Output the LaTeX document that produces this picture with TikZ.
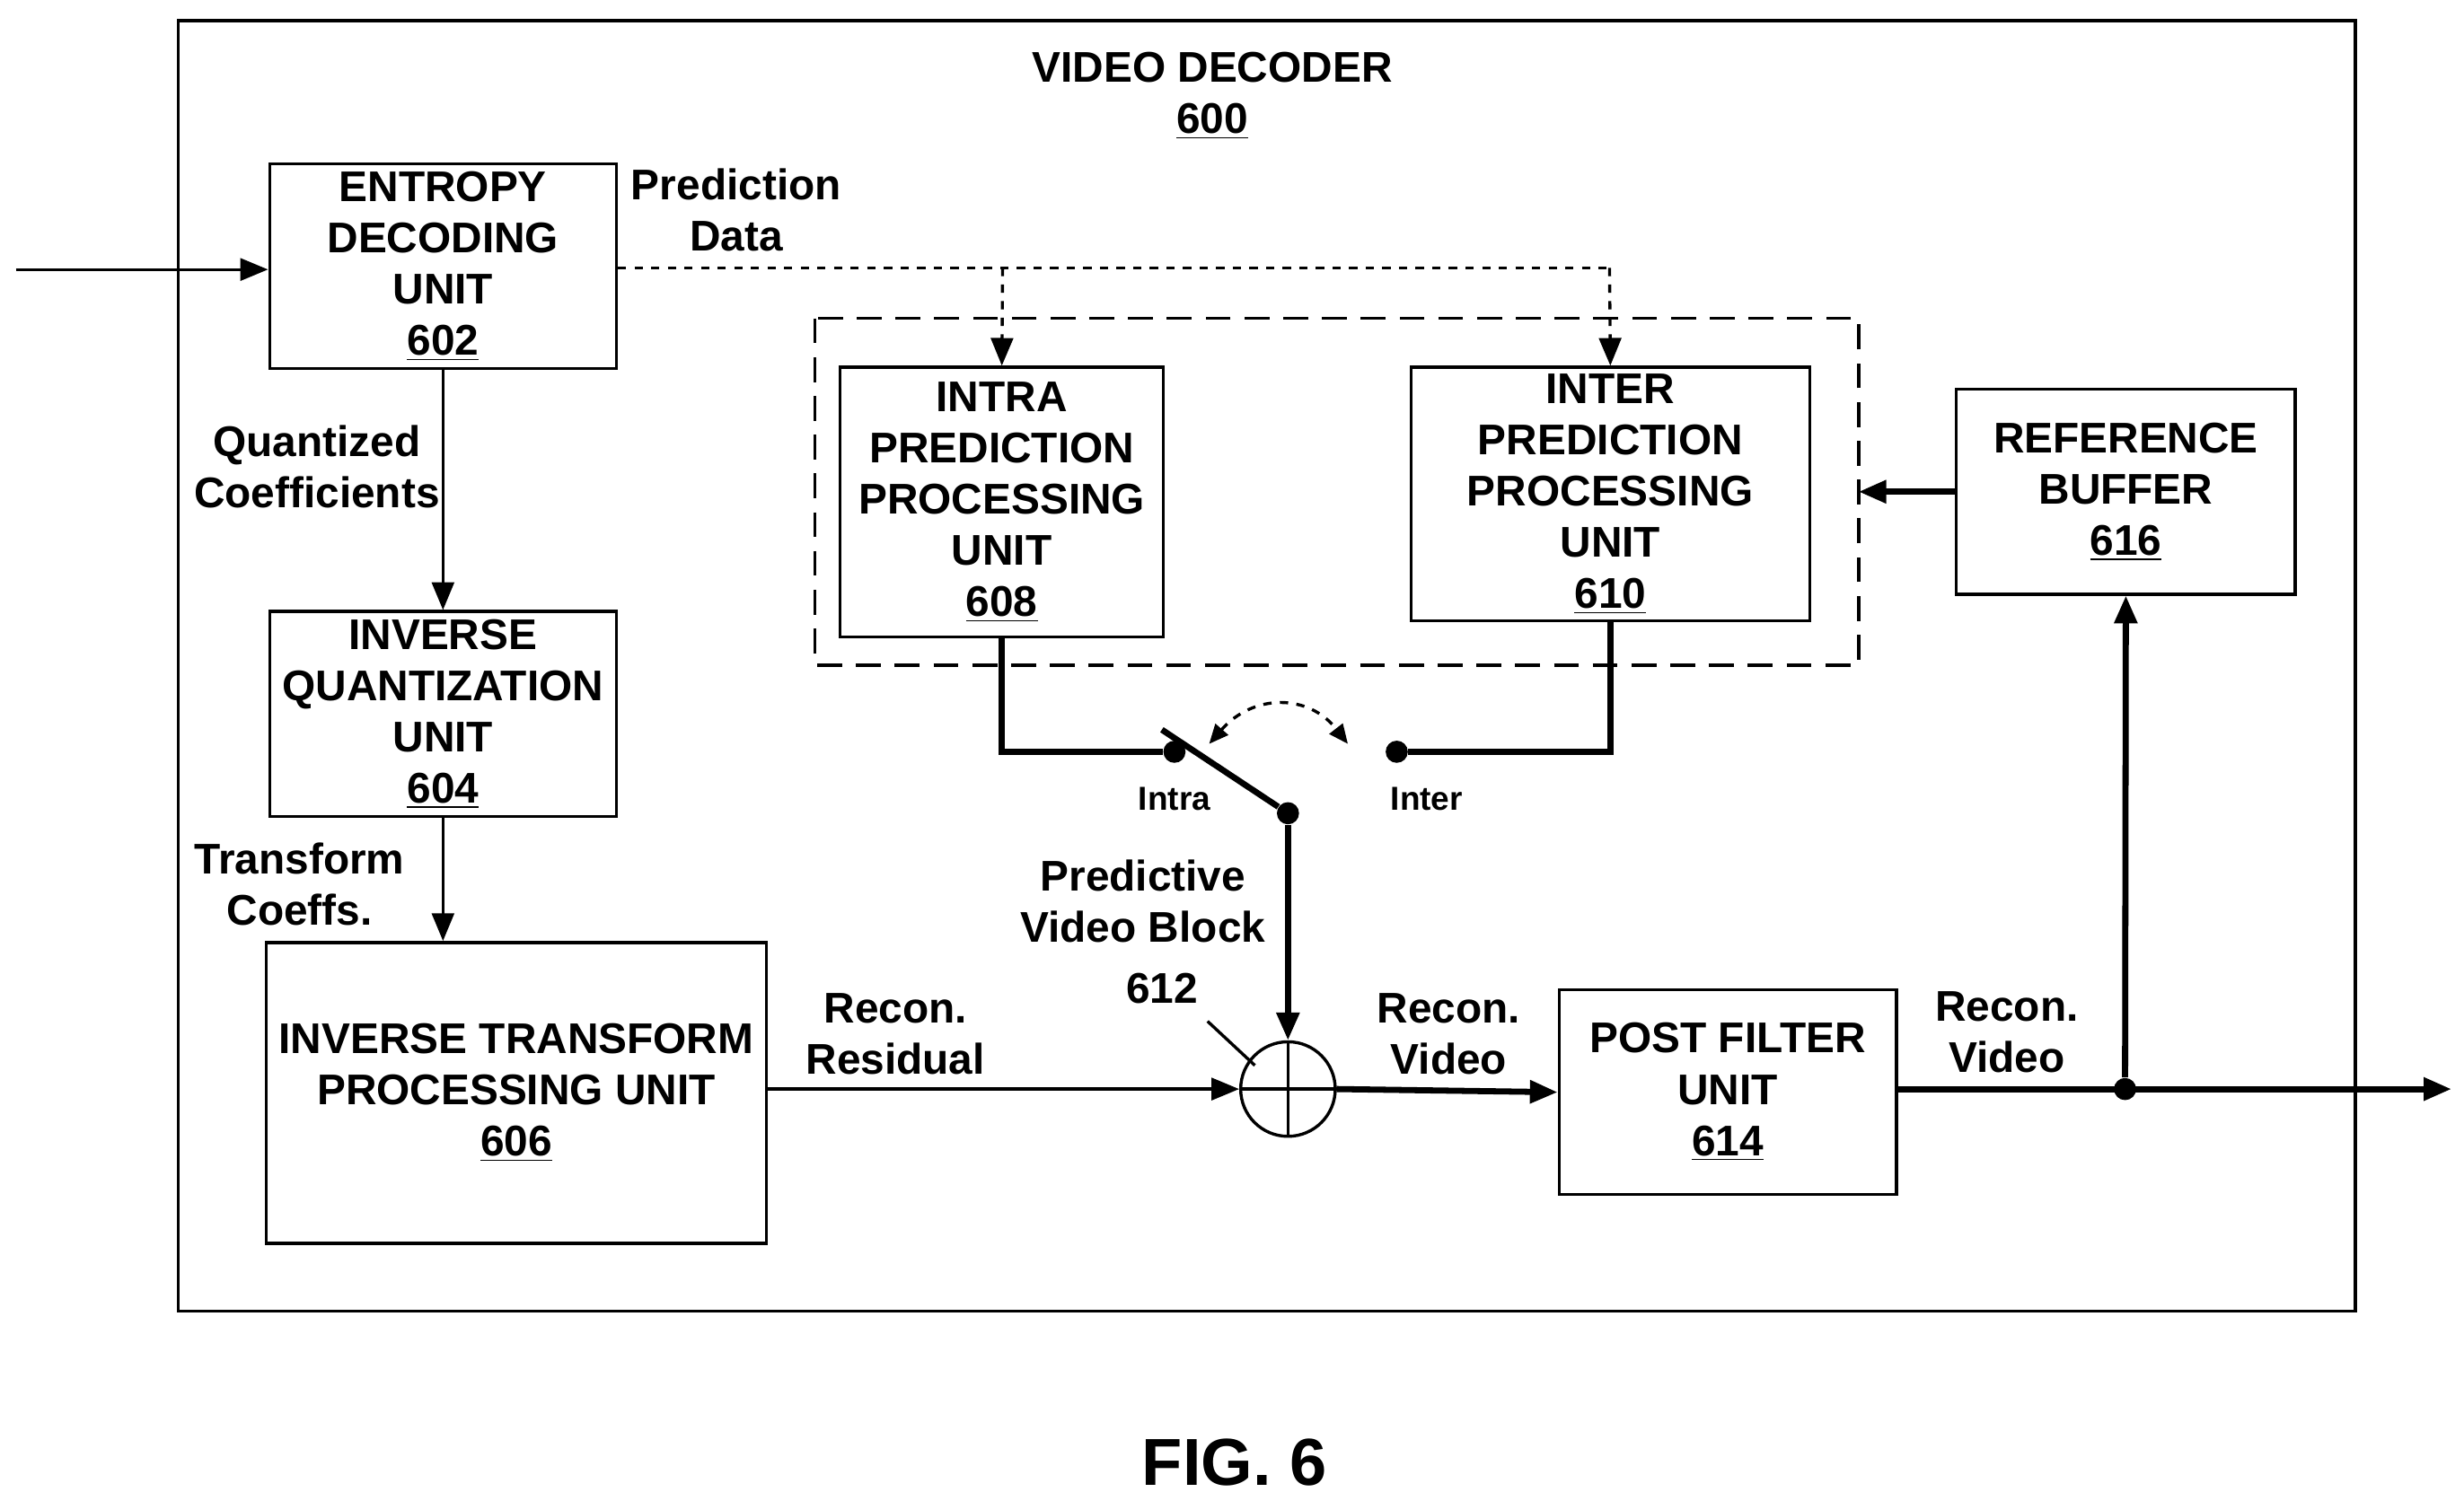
\documentclass[tikz,border=0pt]{standalone}
\usepackage{fontspec}
\setmainfont{Liberation Sans}
\usetikzlibrary{arrows.meta}
\begin{document}
\begin{tikzpicture}[x=0.02cm,y=-0.02cm,
  box/.style={draw,line width=1.1pt,align=center,inner sep=0pt,font=\bfseries\fontsize{15.5}{18.5}\selectfont},
  lab/.style={align=center,font=\bfseries\fontsize{15.5}{18.5}\selectfont},
  thin/.style={line width=1.1pt},
  thick/.style={line width=2.2pt},
  arr/.style={-{Triangle[length=10pt,width=8pt]}},
  dot/.style={circle,fill,inner sep=0pt,minimum size=8pt}]
\useasboundingbox (0,0) rectangle (1563,952);
\draw[thin] (113,13) rectangle (1494,832);
\node[lab] (title) at (769,61) {VIDEO DECODER\\\underline{600}};
% boxes
\node[box,minimum width=220*0.02cm,minimum height=130*0.02cm] (ent) at (281,169) {ENTROPY\\DECODING\\UNIT\\\underline{602}};
\node[box,minimum width=220*0.02cm,minimum height=130*0.02cm] (iq) at (281,453) {INVERSE\\QUANTIZATION\\UNIT\\\underline{604}};
\node[box,minimum width=317*0.02cm,minimum height=191*0.02cm] (it) at (327.5,693.5) {INVERSE TRANSFORM\\PROCESSING UNIT\\\underline{606}};
\node[box,minimum width=205*0.02cm,minimum height=171*0.02cm] (intra) at (635.5,318.5) {INTRA\\PREDICTION\\PROCESSING\\UNIT\\\underline{608}};
\node[box,minimum width=253*0.02cm,minimum height=161*0.02cm] (inter) at (1021.5,313.5) {INTER\\PREDICTION\\PROCESSING\\UNIT\\\underline{610}};
\node[box,minimum width=215*0.02cm,minimum height=130*0.02cm] (ref) at (1348.5,312) {REFERENCE\\BUFFER\\\underline{616}};
\node[box,minimum width=214*0.02cm,minimum height=130*0.02cm] (pf) at (1096,693) {POST FILTER\\UNIT\\\underline{614}};
\draw[thin,dash pattern=on 9pt off 5pt] (517,202) rectangle (1179,422);
\coordinate (dbr) at (1179,312);
\node[draw,circle,thin,minimum size=60*0.02cm,inner sep=0pt] (add) at (817,691) {};
\draw[thin] (add.north)--(add.south) (add.west)--(add.east);
% input
\coordinate (in) at (10,171);
\draw[thin,arr] (in) -- (ent.west|-in);
% prediction data
\node[lab] (pd) at (467,133) {Prediction\\Data};
\coordinate (d1) at (636,170);\coordinate (d2) at (1021,170);
\draw[thin,dashed] (ent.east|-d1) -- (d2);
\draw[thin,dashed,arr] (d1) -- (intra.north);
\draw[thin,dashed,arr] (d2) -- (inter.north);
\draw[thick,arr] (ref.west) -- (dbr);
\node[lab] (qc) at (201,296) {Quantized\\Coefficients};
\draw[thin,arr] (ent.south) -- (iq.north);
\node[lab] (tc) at (190,561) {Transform\\Coeffs.};
\draw[thin,arr] (iq.south) -- (iq.south|-it.north);
\node[lab] (rr) at (568,656) {Recon.\\Residual};
\draw[thin,arr] (it.east|-add) -- (add.west);
% switch
\node[dot] (sa) at (745,477) {};
\node[dot] (sb) at (886,477) {};
\node[dot] (sc) at (817,516) {};
\draw[thick] (intra.south) |- (sa);
\draw[thick] (inter.south) |- (sb);
\draw[thick] (sc) -- (737,463);
\draw[thin,dashed,{Triangle[length=7pt,width=6pt]}-{Triangle[length=7pt,width=6pt]}] (767,472) .. controls (795,440) and (830,440) .. (855,472);
\node[font=\bfseries\fontsize{12}{14}\selectfont] (li) at (745,507) {Intra};
\node[font=\bfseries\fontsize{12}{14}\selectfont] (le) at (905,507) {Inter};
\draw[thick,arr] (sc) -- (add.north);
\node[lab] (pv) at (725,572) {Predictive\\Video Block};
\node[lab] (n612) at (737,627) {612};
\draw[thin] (766,648) -- (796,676);
\node[lab] (rv1) at (919,656) {Recon.\\Video};
\draw[thick,arr] (add.east) -- (pf.west);
\node[dot] (od) at (1348,691) {};
\coordinate (out) at (1555,691);
\draw[thick,arr] (pf.east|-out) -- (out);
\draw[thick,arr] (od) -- (ref.south);
\node[lab] (rv2) at (1273,655) {Recon.\\Video};
\node[font=\bfseries\fontsize{24}{28}\selectfont] (fig) at (783,928) {FIG. 6};
\end{tikzpicture}
\end{document}
